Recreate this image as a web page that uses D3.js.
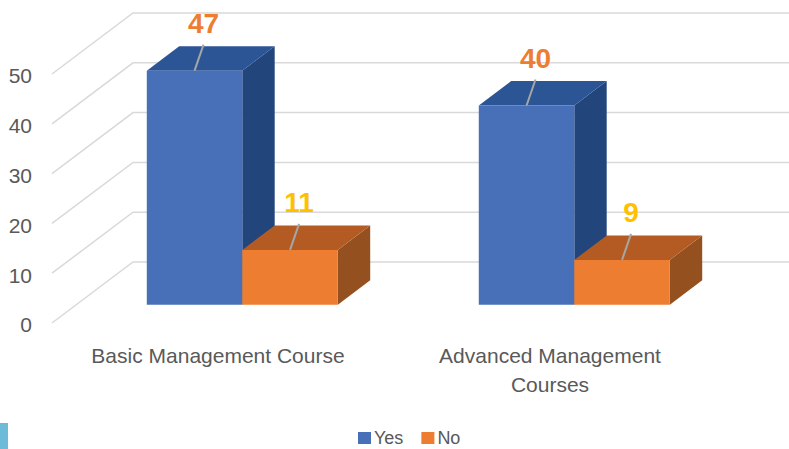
<!DOCTYPE html>
<html>
<head>
<meta charset="utf-8">
<style>
body { margin: 0; background: #fff; }
#chart { width: 789px; height: 449px; }
text { font-family: "Liberation Sans", Arial, sans-serif; }
</style>
</head>
<body>
<div id="chart"></div>
<script src="https://cdn.jsdelivr.net/npm/d3@7/dist/d3.min.js"></script>
<script>
const categories = ["Basic Management Course", "Advanced Management Courses"];
const series = ["Yes", "No"];
const yesValues = [47, 40];
const noValues = [11, 9];
const yTicks = [0, 10, 20, 30, 40, 50];

const width = 789, height = 449;

// colours per series: front, top, side, label
const colors = {
  Yes: { front: "#4770B9", top: "#2C5596", side: "#22457C", label: "#ED7D31" },
  No: { front: "#ED7D31", top: "#B45B24", side: "#95501F", label: "#FFC000" }
};

// 3d floor depth vector (front plane -> back wall)
const depthX = 81, depthY = 61;
const barZ0 = 0.3, barZ1 = 0.7;
function proj(x, y, z) { return [x + z * depthX, y - z * depthY]; }

const svg = d3.select("#chart").append("svg")
    .attr("width", width)
    .attr("height", height);

const x0 = d3.scaleBand().domain(categories).range([52, 716]);
const x1 = d3.scaleBand().domain(series).range([0, x0.bandwidth()]).paddingOuter(0.738);
const y = d3.scaleLinear().domain([0, 50]).range([323, 74]);

const data = categories.map((c, i) => ({
  category: c,
  values: [
    { key: "Yes", value: yesValues[i] },
    { key: "No", value: noValues[i] }
  ]
}));

// gridlines: back wall + floor/side diagonals
const grid = svg.append("g").attr("stroke", "#d9d9d9").attr("stroke-width", 1.5).attr("fill", "none");
yTicks.forEach(t => {
  const a = proj(x0.range()[0], y(t), 0);
  const b = proj(x0.range()[0], y(t), 1);
  const c = proj(x0.range()[1], y(t), 1);
  grid.append("path").attr("d", "M" + a + "L" + b + "L" + c);
});

// y tick labels
svg.append("g").selectAll("text")
  .data(yTicks)
  .join("text")
    .attr("x", 32)
    .attr("y", d => y(d) + 2)
    .attr("dy", "0.35em")
    .attr("text-anchor", "end")
    .attr("fill", "#595959")
    .style("font-size", "21px")
    .text(d => d);

// bars
const bars = svg.append("g");
data.forEach(g => {
  g.values.forEach(d => {
    const xl = x0(g.category) + x1(d.key);
    const xr = xl + x1.bandwidth();
    const yt = y(d.value), yb = y(0);
    const col = colors[d.key];
    const pts = arr => arr.map(p => p.join(",")).join(" ");
    // side face
    bars.append("polygon")
      .attr("points", pts([proj(xr, yt, barZ0), proj(xr, yt, barZ1), proj(xr, yb, barZ1), proj(xr, yb, barZ0)]))
      .attr("fill", col.side);
    // top face
    bars.append("polygon")
      .attr("points", pts([proj(xl, yt, barZ0), proj(xl, yt, barZ1), proj(xr, yt, barZ1), proj(xr, yt, barZ0)]))
      .attr("fill", col.top);
    // front face
    bars.append("polygon")
      .attr("points", pts([proj(xl, yt, barZ0), proj(xr, yt, barZ0), proj(xr, yb, barZ0), proj(xl, yb, barZ0)]))
      .attr("fill", col.front);
  });
});

// data labels with leader lines
const labels = svg.append("g");
data.forEach(g => {
  g.values.forEach(d => {
    const xc = x0(g.category) + x1(d.key) + x1.bandwidth() / 2;
    const start = proj(xc, y(d.value), barZ0);
    const end = [start[0] + 9, start[1] - 26];
    labels.append("line")
      .attr("x1", start[0]).attr("y1", start[1])
      .attr("x2", end[0]).attr("y2", end[1])
      .attr("stroke", "#a6a6a6")
      .attr("stroke-width", 2);
    labels.append("text")
      .attr("x", end[0])
      .attr("y", end[1] - 12)
      .attr("text-anchor", "middle")
      .attr("fill", colors[d.key].label)
      .style("font-size", "28px")
      .style("font-weight", "bold")
      .text(d.value);
  });
});

// category labels (wrapped)
const catG = svg.append("g");
categories.forEach(c => {
  const cx = x0(c) + x0.bandwidth() / 2;
  const t = catG.append("text")
    .attr("x", cx)
    .attr("y", 363)
    .attr("text-anchor", "middle")
    .attr("fill", "#595959")
    .style("font-size", "21px");
  const words = c.split(" ");
  let line = [];
  let ts = t.append("tspan").attr("x", cx).attr("dy", 0);
  words.forEach(w => {
    line.push(w);
    ts.text(line.join(" "));
    if (ts.node().getComputedTextLength() > 290 && line.length > 1) {
      line.pop();
      ts.text(line.join(" "));
      line = [w];
      ts = t.append("tspan").attr("x", cx).attr("dy", 29).text(w);
    }
  });
});

// legend
const legend = svg.append("g");
let lx = 358;
series.forEach(s => {
  legend.append("rect")
    .attr("x", lx).attr("y", 432)
    .attr("width", 13).attr("height", 12)
    .attr("fill", colors[s].front);
  const t = legend.append("text")
    .attr("x", lx + 16).attr("y", 444)
    .attr("fill", "#595959")
    .style("font-size", "18px")
    .text(s);
  lx += 16 + t.node().getComputedTextLength() + 18;
});

// slide edge accent bottom-left
svg.append("rect")
  .attr("x", 0).attr("y", 423)
  .attr("width", 8).attr("height", 26)
  .attr("fill", "#6BBBD9");
</script>
</body>
</html>
